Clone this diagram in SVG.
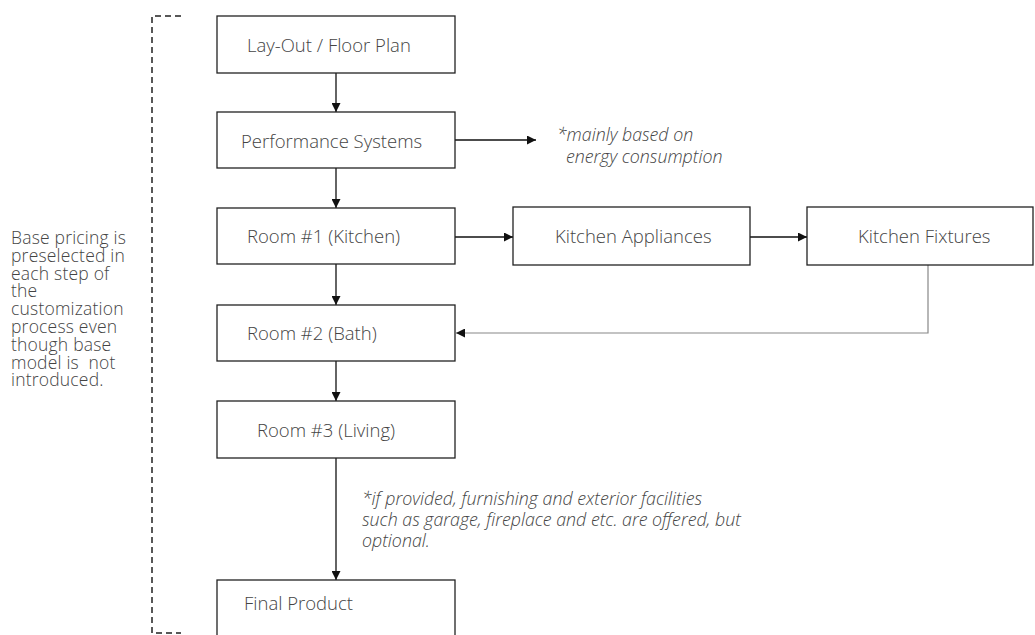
<svg xmlns="http://www.w3.org/2000/svg" width="1035" height="635" viewBox="0 0 1035 635">
<style>
.box{fill:#fff;stroke:#222;stroke-width:1.3}
.t{font-family:"Open Sans","Liberation Sans",sans-serif;font-weight:300;font-size:18.5px;fill:#444}
.n{font-family:"Open Sans","Liberation Sans",sans-serif;font-weight:300;font-style:italic;font-size:17.8px;fill:#444}
.s{font-family:"Open Sans","Liberation Sans",sans-serif;font-weight:300;font-size:17.5px;letter-spacing:0.2px;fill:#444}
.c{fill:none;stroke:#111;stroke-width:1.3}
.g{fill:none;stroke:#888;stroke-width:1.2}
</style>
<defs>
<marker id="ah" viewBox="0 0 10 10" refX="10" refY="5" markerWidth="9" markerHeight="9" markerUnits="userSpaceOnUse" orient="auto"><path d="M0,0 L10,5 L0,10 z" fill="#111"/></marker>
</defs>
<rect width="1035" height="635" fill="#fff"/>
<g id="bracket">
<path d="M181,16 H152 V633 H181" fill="none" stroke="#222" stroke-width="1.5" stroke-dasharray="6,4"/>
</g>
<g id="side-note">
<text class="s"><tspan x="11" y="244">Base pricing is</tspan><tspan x="11" y="261.8">preselected in</tspan><tspan x="11" y="279.6">each step of</tspan><tspan x="11" y="297.4">the</tspan><tspan x="11" y="315.2">customization</tspan><tspan x="11" y="333">process even</tspan><tspan x="11" y="350.8">though base</tspan><tspan x="11" y="368.6">model is&#160; not</tspan><tspan x="11" y="386.4">introduced.</tspan></text>
</g>
<g id="connectors">
<line class="c" x1="336" y1="73" x2="336" y2="112" marker-end="url(#ah)"/>
<line class="c" x1="336" y1="168" x2="336" y2="208" marker-end="url(#ah)"/>
<line class="c" x1="455" y1="140" x2="536" y2="140" marker-end="url(#ah)"/>
<line class="c" x1="455" y1="237" x2="513" y2="237" marker-end="url(#ah)"/>
<line class="c" x1="750" y1="237" x2="807" y2="237" marker-end="url(#ah)"/>
<line class="c" x1="336" y1="264" x2="336" y2="305" marker-end="url(#ah)"/>
<path class="g" d="M928,265 V333 H456" marker-end="url(#ah)"/>
<line class="c" x1="336" y1="361" x2="336" y2="401" marker-end="url(#ah)"/>
<line class="c" x1="336" y1="458" x2="336" y2="580" marker-end="url(#ah)"/>
</g>
<g id="n1"><rect class="box" x="217" y="16" width="238" height="57"/><text class="t" x="247" y="52">Lay-Out / Floor Plan</text></g>
<g id="n2"><rect class="box" x="217" y="112" width="238" height="56"/><text class="t" x="241" y="148">Performance Systems</text></g>
<g id="note1"><text class="n"><tspan x="557" y="141">*mainly based on</tspan><tspan x="566" y="163">energy consumption</tspan></text></g>
<g id="n3"><rect class="box" x="217" y="208" width="238" height="56"/><text class="t" x="247" y="243">Room #1 (Kitchen)</text></g>
<g id="n4"><rect class="box" x="513" y="207" width="237" height="58"/><text class="t" x="555" y="243">Kitchen Appliances</text></g>
<g id="n5"><rect class="box" x="807" y="207" width="226" height="58"/><text class="t" x="858" y="243">Kitchen Fixtures</text></g>
<g id="n6"><rect class="box" x="217" y="305" width="238" height="56"/><text class="t" x="247" y="340">Room #2 (Bath)</text></g>
<g id="n7"><rect class="box" x="217" y="401" width="238" height="57"/><text class="t" x="257" y="437">Room #3 (Living)</text></g>
<g id="note2"><text class="n"><tspan x="362" y="505">*if provided, furnishing and exterior facilities</tspan><tspan x="362" y="526">such as garage, fireplace and etc. are offered, but</tspan><tspan x="362" y="547">optional.</tspan></text></g>
<g id="n8"><rect class="box" x="217" y="580" width="238" height="60"/><text class="t" x="244" y="610">Final Product</text></g>
</svg>
